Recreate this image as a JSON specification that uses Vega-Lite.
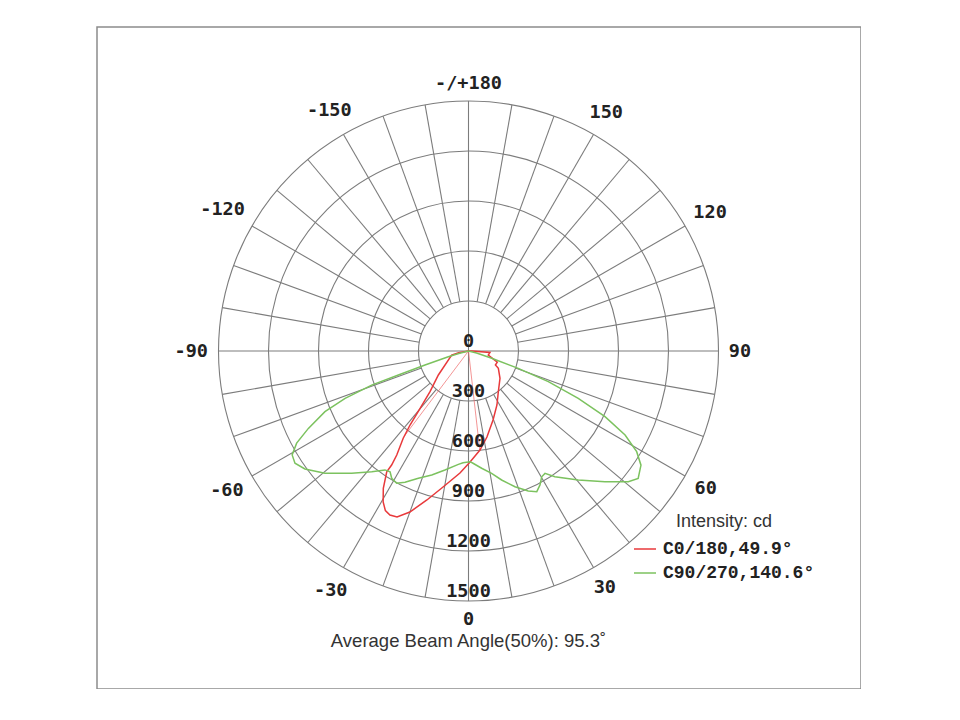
{
  "$schema": "https://vega.github.io/schema/vega-lite/v6.json",
  "width": 764,
  "height": 662,
  "autosize": {"type": "none"},
  "padding": {"left": 97, "top": 27, "right": 0, "bottom": 0},
  "background": "white",
  "config": {
    "view": {"stroke": "#8c8c8c", "strokeWidth": 1.5},
    "legend": {
      "orient": "none",
      "legendX": 536,
      "legendY": 486,
      "padding": 0,
      "titleFont": "Liberation Sans",
      "titleFontSize": 18,
      "titleFontWeight": "normal",
      "titleColor": "#333333",
      "titleAnchor": "middle",
      "titlePadding": 6,
      "labelFont": "Liberation Mono",
      "labelFontSize": 18,
      "labelFontWeight": "bold",
      "labelColor": "#222222",
      "labelOffset": 6,
      "symbolType": "stroke",
      "symbolSize": 484,
      "symbolStrokeWidth": 1.5,
      "rowPadding": 3
    }
  },
  "datasets": {
    "rings": [
      {"cd": 300}, {"cd": 600}, {"cd": 900}, {"cd": 1200}, {"cd": 1500}
    ],
    "spokes": [
      {"angle": -170, "r0": 300}, {"angle": -160, "r0": 300}, {"angle": -150, "r0": 300},
      {"angle": -140, "r0": 300}, {"angle": -130, "r0": 300}, {"angle": -120, "r0": 300},
      {"angle": -110, "r0": 300}, {"angle": -100, "r0": 300}, {"angle": -90, "r0": 0},
      {"angle": -80, "r0": 300}, {"angle": -70, "r0": 300}, {"angle": -60, "r0": 300},
      {"angle": -50, "r0": 300}, {"angle": -40, "r0": 300}, {"angle": -30, "r0": 300},
      {"angle": -20, "r0": 300}, {"angle": -10, "r0": 300}, {"angle": 0, "r0": 0},
      {"angle": 10, "r0": 300}, {"angle": 20, "r0": 300}, {"angle": 30, "r0": 300},
      {"angle": 40, "r0": 300}, {"angle": 50, "r0": 300}, {"angle": 60, "r0": 300},
      {"angle": 70, "r0": 300}, {"angle": 80, "r0": 300}, {"angle": 90, "r0": 0},
      {"angle": 100, "r0": 300}, {"angle": 110, "r0": 300}, {"angle": 120, "r0": 300},
      {"angle": 130, "r0": 300}, {"angle": 140, "r0": 300}, {"angle": 150, "r0": 300},
      {"angle": 160, "r0": 300}, {"angle": 170, "r0": 300}, {"angle": 180, "r0": 0}
    ],
    "angleLabels": [
      {"angle": 0, "label": "0"}, {"angle": 30, "label": "30"}, {"angle": 60, "label": "60"},
      {"angle": 90, "label": "90"}, {"angle": 120, "label": "120"}, {"angle": 150, "label": "150"},
      {"angle": 180, "label": "-/+180"}, {"angle": -150, "label": "-150"}, {"angle": -120, "label": "-120"},
      {"angle": -90, "label": "-90"}, {"angle": -60, "label": "-60"}, {"angle": -30, "label": "-30"}
    ],
    "ringLabels": [
      {"cd": 0}, {"cd": 300}, {"cd": 600}, {"cd": 900}, {"cd": 1200}, {"cd": 1500}
    ],
    "caption": [
      {"text": "Average Beam Angle(50%): 95.3˚", "x": 0, "y": -1740}
    ],
    "curves": [
      {"series": "C0/180,49.9°", "order": 1, "angle": -85, "cd": 0},
      {"series": "C0/180,49.9°", "order": 2, "angle": -80, "cd": 60},
      {"series": "C0/180,49.9°", "order": 3, "angle": -76.6, "cd": 104},
      {"series": "C0/180,49.9°", "order": 4, "angle": -51.5, "cd": 231},
      {"series": "C0/180,49.9°", "order": 5, "angle": -43.4, "cd": 336},
      {"series": "C0/180,49.9°", "order": 6, "angle": -40.2, "cd": 450},
      {"series": "C0/180,49.9°", "order": 7, "angle": -38.3, "cd": 566},
      {"series": "C0/180,49.9°", "order": 8, "angle": -36.8, "cd": 654},
      {"series": "C0/180,49.9°", "order": 9, "angle": -34.6, "cd": 758},
      {"series": "C0/180,49.9°", "order": 10, "angle": -34.0, "cd": 825},
      {"series": "C0/180,49.9°", "order": 11, "angle": -34.1, "cd": 875},
      {"series": "C0/180,49.9°", "order": 12, "angle": -31.8, "cd": 970},
      {"series": "C0/180,49.9°", "order": 13, "angle": -29.5, "cd": 1040},
      {"series": "C0/180,49.9°", "order": 14, "angle": -27.5, "cd": 1080},
      {"series": "C0/180,49.9°", "order": 15, "angle": -25.6, "cd": 1091},
      {"series": "C0/180,49.9°", "order": 16, "angle": -23.3, "cd": 1084},
      {"series": "C0/180,49.9°", "order": 17, "angle": -20.0, "cd": 1028},
      {"series": "C0/180,49.9°", "order": 18, "angle": -15.6, "cd": 928},
      {"series": "C0/180,49.9°", "order": 19, "angle": -10.6, "cd": 830},
      {"series": "C0/180,49.9°", "order": 20, "angle": -4.0, "cd": 734},
      {"series": "C0/180,49.9°", "order": 21, "angle": 0.8, "cd": 666},
      {"series": "C0/180,49.9°", "order": 22, "angle": 6.6, "cd": 598},
      {"series": "C0/180,49.9°", "order": 23, "angle": 12.1, "cd": 528},
      {"series": "C0/180,49.9°", "order": 24, "angle": 19.6, "cd": 439},
      {"series": "C0/180,49.9°", "order": 25, "angle": 27.8, "cd": 366},
      {"series": "C0/180,49.9°", "order": 26, "angle": 36.2, "cd": 303},
      {"series": "C0/180,49.9°", "order": 27, "angle": 49.1, "cd": 250},
      {"series": "C0/180,49.9°", "order": 28, "angle": 59.9, "cd": 207},
      {"series": "C0/180,49.9°", "order": 29, "angle": 62.5, "cd": 182},
      {"series": "C0/180,49.9°", "order": 30, "angle": 69, "cd": 185},
      {"series": "C0/180,49.9°", "order": 31, "angle": 78.6, "cd": 121},
      {"series": "C0/180,49.9°", "order": 32, "angle": 86, "cd": 129},
      {"series": "C0/180,49.9°", "order": 33, "angle": 88, "cd": 20},
      {"series": "C0/180,49.9°", "order": 34, "angle": 90, "cd": 0},
      {"series": "C90/270,140.6°", "order": 1, "angle": -90, "cd": 0},
      {"series": "C90/270,140.6°", "order": 2, "angle": -76, "cd": 60},
      {"series": "C90/270,140.6°", "order": 3, "angle": -74.2, "cd": 126},
      {"series": "C90/270,140.6°", "order": 4, "angle": -72.2, "cd": 274},
      {"series": "C90/270,140.6°", "order": 5, "angle": -71.1, "cd": 445},
      {"series": "C90/270,140.6°", "order": 6, "angle": -70.6, "cd": 616},
      {"series": "C90/270,140.6°", "order": 7, "angle": -69.0, "cd": 793},
      {"series": "C90/270,140.6°", "order": 8, "angle": -67.1, "cd": 935},
      {"series": "C90/270,140.6°", "order": 9, "angle": -64.2, "cd": 1067},
      {"series": "C90/270,140.6°", "order": 10, "angle": -61.8, "cd": 1170},
      {"series": "C90/270,140.6°", "order": 11, "angle": -59.5, "cd": 1228},
      {"series": "C90/270,140.6°", "order": 12, "angle": -57.1, "cd": 1240},
      {"series": "C90/270,140.6°", "order": 13, "angle": -54.2, "cd": 1210},
      {"series": "C90/270,140.6°", "order": 14, "angle": -49.6, "cd": 1131},
      {"series": "C90/270,140.6°", "order": 15, "angle": -43.7, "cd": 1015},
      {"series": "C90/270,140.6°", "order": 16, "angle": -38.7, "cd": 928},
      {"series": "C90/270,140.6°", "order": 17, "angle": -35.1, "cd": 872},
      {"series": "C90/270,140.6°", "order": 18, "angle": -33.0, "cd": 864},
      {"series": "C90/270,140.6°", "order": 19, "angle": -31.1, "cd": 892},
      {"series": "C90/270,140.6°", "order": 20, "angle": -28.5, "cd": 903},
      {"series": "C90/270,140.6°", "order": 21, "angle": -25.8, "cd": 875},
      {"series": "C90/270,140.6°", "order": 22, "angle": -21.5, "cd": 821},
      {"series": "C90/270,140.6°", "order": 23, "angle": -16.5, "cd": 776},
      {"series": "C90/270,140.6°", "order": 24, "angle": -11.2, "cd": 728},
      {"series": "C90/270,140.6°", "order": 25, "angle": -5.1, "cd": 683},
      {"series": "C90/270,140.6°", "order": 26, "angle": -2.8, "cd": 671},
      {"series": "C90/270,140.6°", "order": 27, "angle": 0.8, "cd": 664},
      {"series": "C90/270,140.6°", "order": 28, "angle": 2.3, "cd": 674},
      {"series": "C90/270,140.6°", "order": 29, "angle": 6.4, "cd": 708},
      {"series": "C90/270,140.6°", "order": 30, "angle": 10.7, "cd": 747},
      {"series": "C90/270,140.6°", "order": 31, "angle": 14.4, "cd": 799},
      {"series": "C90/270,140.6°", "order": 32, "angle": 18.9, "cd": 861},
      {"series": "C90/270,140.6°", "order": 33, "angle": 23.1, "cd": 913},
      {"series": "C90/270,140.6°", "order": 34, "angle": 25.9, "cd": 938},
      {"series": "C90/270,140.6°", "order": 35, "angle": 28.1, "cd": 911},
      {"series": "C90/270,140.6°", "order": 36, "angle": 30.2, "cd": 873},
      {"series": "C90/270,140.6°", "order": 37, "angle": 32.0, "cd": 866},
      {"series": "C90/270,140.6°", "order": 38, "angle": 34.5, "cd": 915},
      {"series": "C90/270,140.6°", "order": 39, "angle": 40.4, "cd": 1016},
      {"series": "C90/270,140.6°", "order": 40, "angle": 46.2, "cd": 1134},
      {"series": "C90/270,140.6°", "order": 41, "angle": 50.7, "cd": 1239},
      {"series": "C90/270,140.6°", "order": 42, "angle": 53.1, "cd": 1273},
      {"series": "C90/270,140.6°", "order": 43, "angle": 56.5, "cd": 1241},
      {"series": "C90/270,140.6°", "order": 44, "angle": 59.1, "cd": 1176},
      {"series": "C90/270,140.6°", "order": 45, "angle": 61.8, "cd": 1066},
      {"series": "C90/270,140.6°", "order": 46, "angle": 64.3, "cd": 909},
      {"series": "C90/270,140.6°", "order": 47, "angle": 66.7, "cd": 717},
      {"series": "C90/270,140.6°", "order": 48, "angle": 69.0, "cd": 513},
      {"series": "C90/270,140.6°", "order": 49, "angle": 70.8, "cd": 316},
      {"series": "C90/270,140.6°", "order": 50, "angle": 72.5, "cd": 146},
      {"series": "C90/270,140.6°", "order": 51, "angle": 76, "cd": 50},
      {"series": "C90/270,140.6°", "order": 52, "angle": 90, "cd": 0}
    ],
    "thin": [
      {"angle": -37, "cd": 640},
      {"angle": 6.5, "cd": 605}
    ]
  },
  "layer": [
    {
      "data": {"name": "rings"},
      "transform": [
        {"calculate": "0", "as": "cx"},
        {"calculate": "0", "as": "cy"}
      ],
      "mark": {"type": "point", "shape": "circle", "filled": false, "color": "#7c7c7c", "strokeWidth": 1.1, "opacity": 1},
      "encoding": {
        "x": {"field": "cx", "type": "quantitative", "scale": {"domain": [-2229, 2355], "nice": false, "zero": false}, "axis": null},
        "y": {"field": "cy", "type": "quantitative", "scale": {"domain": [-2028, 1944], "nice": false, "zero": false}, "axis": null},
        "size": {"field": "cd", "type": "quantitative", "scale": {"type": "pow", "exponent": 2, "domain": [0, 1500], "range": [0, 250000]}, "legend": null}
      }
    },
    {
      "data": {"name": "spokes"},
      "transform": [
        {"calculate": "datum.r0 * sin(datum.angle * PI / 180)", "as": "x0"},
        {"calculate": "-datum.r0 * cos(datum.angle * PI / 180)", "as": "y0"},
        {"calculate": "1500 * sin(datum.angle * PI / 180)", "as": "x1"},
        {"calculate": "-1500 * cos(datum.angle * PI / 180)", "as": "y1"}
      ],
      "mark": {"type": "rule", "color": "#7c7c7c", "strokeWidth": 1.1},
      "encoding": {
        "x": {"field": "x0", "type": "quantitative"},
        "y": {"field": "y0", "type": "quantitative"},
        "x2": {"field": "x1"},
        "y2": {"field": "y1"}
      }
    },
    {
      "data": {"name": "thin"},
      "transform": [
        {"calculate": "0", "as": "x0"},
        {"calculate": "0", "as": "y0"},
        {"calculate": "datum.cd * sin(datum.angle * PI / 180)", "as": "x"},
        {"calculate": "-datum.cd * cos(datum.angle * PI / 180)", "as": "y"}
      ],
      "mark": {"type": "rule", "color": "#ee6b6b", "strokeWidth": 0.9, "opacity": 0.8},
      "encoding": {
        "x": {"field": "x0", "type": "quantitative"},
        "y": {"field": "y0", "type": "quantitative"},
        "x2": {"field": "x"},
        "y2": {"field": "y"}
      }
    },
    {
      "data": {"name": "curves"},
      "transform": [
        {"calculate": "datum.cd * sin(datum.angle * PI / 180)", "as": "x"},
        {"calculate": "-datum.cd * cos(datum.angle * PI / 180)", "as": "y"}
      ],
      "mark": {"type": "line", "strokeWidth": 1.5},
      "encoding": {
        "x": {"field": "x", "type": "quantitative"},
        "y": {"field": "y", "type": "quantitative"},
        "order": {"field": "order", "type": "quantitative"},
        "color": {
          "field": "series",
          "type": "nominal",
          "scale": {"domain": ["C0/180,49.9°", "C90/270,140.6°"], "range": ["#e8393b", "#7cc25f"]},
          "legend": {"title": "Intensity: cd"}
        }
      }
    },
    {
      "data": {"name": "ringLabels"},
      "transform": [
        {"calculate": "0", "as": "x"},
        {"calculate": "-datum.cd", "as": "y"},
        {"calculate": "'' + datum.cd", "as": "label"}
      ],
      "mark": {"type": "text", "font": "DejaVu Sans Mono", "fontSize": 18.5, "fontWeight": "bold", "color": "#222222", "baseline": "middle", "align": "center", "dy": -10},
      "encoding": {
        "x": {"field": "x", "type": "quantitative"},
        "y": {"field": "y", "type": "quantitative"},
        "text": {"field": "label"}
      }
    },
    {
      "data": {"name": "angleLabels"},
      "transform": [
        {"calculate": "6 * (260 + 5.75 * length(datum.label) * abs(sin(datum.angle * PI / 180)) + 8 * abs(cos(datum.angle * PI / 180)))", "as": "r"},
        {"calculate": "datum.r * sin(datum.angle * PI / 180)", "as": "x"},
        {"calculate": "-datum.r * cos(datum.angle * PI / 180)", "as": "y"}
      ],
      "mark": {"type": "text", "font": "DejaVu Sans Mono", "fontSize": 18.5, "fontWeight": "bold", "color": "#222222", "baseline": "middle", "align": "center"},
      "encoding": {
        "x": {"field": "x", "type": "quantitative"},
        "y": {"field": "y", "type": "quantitative"},
        "text": {"field": "label"}
      }
    },
    {
      "data": {"name": "caption"},
      "mark": {"type": "text", "font": "Liberation Sans", "fontSize": 18.5, "color": "#333333", "baseline": "middle", "align": "center"},
      "encoding": {
        "x": {"field": "x", "type": "quantitative"},
        "y": {"field": "y", "type": "quantitative"},
        "text": {"field": "text"}
      }
    }
  ]
}
